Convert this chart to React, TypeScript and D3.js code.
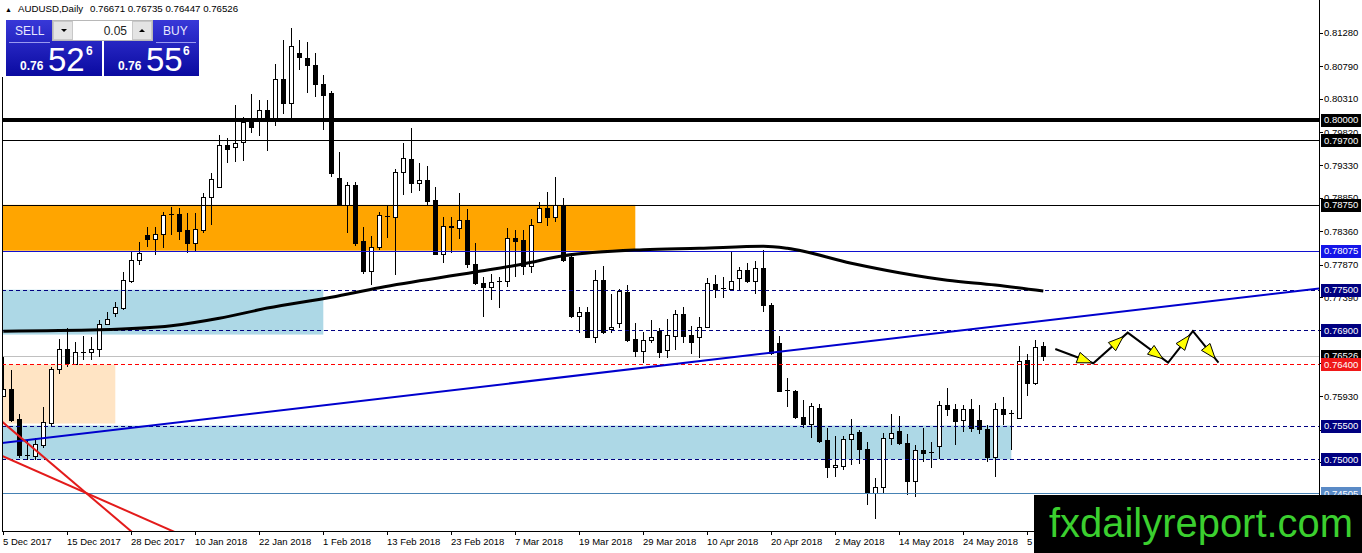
import React from 'react';
import * as d3 from 'd3';

// bar 0 = 5 Dec 2017, one label every 8 bars
const dateLabels = [
  '5 Dec 2017', '15 Dec 2017', '28 Dec 2017', '10 Jan 2018', '22 Jan 2018', '1 Feb 2018',
  '13 Feb 2018', '23 Feb 2018', '7 Mar 2018', '19 Mar 2018', '29 Mar 2018', '10 Apr 2018',
  '20 Apr 2018', '2 May 2018', '14 May 2018', '24 May 2018', '5 Jun 2018',
];

const opens = [
  0.7594, 0.7604, 0.7560, 0.7505, 0.7505, 0.7521, 0.7554, 0.7633, 0.7663, 0.7641,
  0.7657, 0.7658, 0.7663, 0.7700, 0.7716, 0.7723, 0.7763, 0.7794, 0.7831, 0.7825,
  0.7832, 0.7860, 0.7862, 0.7838, 0.7819, 0.7839, 0.7887, 0.7901, 0.7963, 0.7960,
  0.7968, 0.7997, 0.8001, 0.8015, 0.8001, 0.8060, 0.8025, 0.8099, 0.8091, 0.8081,
  0.8053, 0.8040, 0.7915, 0.7875, 0.7904, 0.7822, 0.7778, 0.7813, 0.7857, 0.7857,
  0.7923, 0.7943, 0.7907, 0.7912, 0.7882, 0.7803, 0.7844, 0.7841, 0.7853, 0.7788,
  0.7760, 0.7754, 0.7763, 0.7763, 0.7826, 0.7823, 0.7784, 0.7850, 0.7870, 0.7857,
  0.7875, 0.7798, 0.7711, 0.7717, 0.7680, 0.7764, 0.7692, 0.7701, 0.7747, 0.7677,
  0.7660, 0.7675, 0.7689, 0.7661, 0.7682, 0.7714, 0.7683, 0.7680, 0.7695, 0.7758,
  0.7751, 0.7751, 0.7767, 0.7779, 0.7763, 0.7782, 0.7728, 0.7672, 0.7602, 0.7601,
  0.7563, 0.7552, 0.7576, 0.7529, 0.7489, 0.7490, 0.7530, 0.7540, 0.7515, 0.7451,
  0.7460, 0.7532, 0.7542, 0.7524, 0.7468, 0.7514, 0.7510, 0.7520, 0.7580, 0.7574,
  0.7558, 0.7574, 0.7558, 0.7545, 0.7504, 0.7574, 0.7567, 0.7561, 0.7647, 0.7613,
  0.76671,
];
const highs = [
  0.7651, 0.7632, 0.7567, 0.7529, 0.7532, 0.7577, 0.7636, 0.7677, 0.7694, 0.7673,
  0.7682, 0.7680, 0.7705, 0.7717, 0.7732, 0.7776, 0.7806, 0.7820, 0.7842, 0.7842,
  0.7865, 0.7872, 0.7870, 0.7863, 0.7863, 0.7893, 0.7922, 0.7978, 0.7974, 0.8022,
  0.8004, 0.8038, 0.8029, 0.8029, 0.8082, 0.8118, 0.8135, 0.8118, 0.8115, 0.8099,
  0.8066, 0.8043, 0.7953, 0.7909, 0.7909, 0.7842, 0.7829, 0.7865, 0.7875, 0.7928,
  0.7966, 0.7988, 0.7937, 0.7932, 0.7901, 0.7857, 0.7857, 0.7893, 0.7869, 0.7819,
  0.7769, 0.7773, 0.7769, 0.7841, 0.7838, 0.7838, 0.7854, 0.7879, 0.7894, 0.7916,
  0.7885, 0.7804, 0.7725, 0.7725, 0.7779, 0.7785, 0.7744, 0.7751, 0.7757, 0.7701,
  0.7688, 0.7705, 0.7694, 0.7707, 0.7720, 0.7725, 0.7697, 0.7710, 0.7767, 0.7772,
  0.7769, 0.7806, 0.7784, 0.7789, 0.7792, 0.7809, 0.7730, 0.7682, 0.7620, 0.7603,
  0.7588, 0.7583, 0.7582, 0.7546, 0.7535, 0.7535, 0.7560, 0.7543, 0.7526, 0.7473,
  0.7539, 0.7567, 0.7564, 0.7538, 0.7521, 0.7546, 0.7526, 0.7586, 0.7605, 0.7582,
  0.7580, 0.7589, 0.7580, 0.7551, 0.7583, 0.7592, 0.7573, 0.7667, 0.7655, 0.7676,
  0.76735,
];
const lows = [
  0.7592, 0.7555, 0.7502, 0.7499, 0.7499, 0.7517, 0.7548, 0.7626, 0.7636, 0.7639,
  0.7647, 0.7647, 0.7651, 0.7698, 0.7710, 0.7720, 0.7760, 0.7786, 0.7813, 0.7801,
  0.7812, 0.7831, 0.7823, 0.7804, 0.7806, 0.7834, 0.7845, 0.7900, 0.7937, 0.7938,
  0.7940, 0.7981, 0.7976, 0.7954, 0.7991, 0.8009, 0.8003, 0.8074, 0.8040, 0.8034,
  0.7985, 0.7916, 0.7873, 0.7834, 0.7814, 0.7773, 0.7757, 0.7809, 0.7826, 0.7772,
  0.7890, 0.7893, 0.7895, 0.7873, 0.7801, 0.7789, 0.7804, 0.7825, 0.7782, 0.7757,
  0.7710, 0.7735, 0.7723, 0.7754, 0.7769, 0.7772, 0.7775, 0.7848, 0.7844, 0.7850,
  0.7791, 0.7708, 0.7686, 0.7679, 0.7672, 0.7685, 0.7686, 0.7694, 0.7673, 0.7651,
  0.7642, 0.7672, 0.7649, 0.7649, 0.7661, 0.7672, 0.7655, 0.7649, 0.7694, 0.7738,
  0.7738, 0.7750, 0.7750, 0.7760, 0.7744, 0.7717, 0.7654, 0.7599, 0.7577, 0.7560,
  0.7546, 0.7532, 0.7524, 0.7473, 0.7474, 0.7485, 0.7492, 0.7493, 0.7433, 0.7412,
  0.7451, 0.7521, 0.7521, 0.7448, 0.7445, 0.7496, 0.7487, 0.7501, 0.7564, 0.7521,
  0.7540, 0.7540, 0.7538, 0.7496, 0.7474, 0.7551, 0.7514, 0.7560, 0.7594, 0.7610,
  0.76447,
];
const closes = [
  0.7604, 0.7558, 0.7507, 0.7506, 0.7523, 0.7555, 0.7633, 0.7663, 0.7642, 0.7658,
  0.7658, 0.7663, 0.7700, 0.7707, 0.7725, 0.7764, 0.7794, 0.7804, 0.7825, 0.7832,
  0.7860, 0.7861, 0.7837, 0.7819, 0.7839, 0.7887, 0.7913, 0.7963, 0.7957, 0.7966,
  0.7997, 0.7990, 0.8015, 0.8001, 0.8060, 0.8025, 0.8109, 0.8093, 0.8080, 0.8053,
  0.8037, 0.7922, 0.7876, 0.7904, 0.7819, 0.7778, 0.7813, 0.7860, 0.7858, 0.7923,
  0.7944, 0.7907, 0.7912, 0.7881, 0.7803, 0.7844, 0.7842, 0.7853, 0.7788, 0.7760,
  0.7754, 0.7761, 0.7762, 0.7826, 0.7822, 0.7784, 0.7845, 0.7870, 0.7857, 0.7875,
  0.7794, 0.7711, 0.7717, 0.7680, 0.7764, 0.7688, 0.7695, 0.7748, 0.7676, 0.7660,
  0.7676, 0.7680, 0.7658, 0.7683, 0.7714, 0.7682, 0.7673, 0.7695, 0.7760, 0.7750,
  0.7752, 0.7763, 0.7779, 0.7763, 0.7782, 0.7728, 0.7657, 0.7602, 0.7601, 0.7563,
  0.7552, 0.7579, 0.7527, 0.7489, 0.7492, 0.7530, 0.7538, 0.7515, 0.7451, 0.7460,
  0.7532, 0.7539, 0.7524, 0.7468, 0.7514, 0.7510, 0.7511, 0.7580, 0.7574, 0.7557,
  0.7574, 0.7546, 0.7545, 0.7504, 0.7574, 0.7566, 0.7568, 0.7645, 0.7613, 0.7666,
  0.76526,
];

// moving average, read at a few bars
const maBars = [0, 12, 21, 27, 33, 41, 47, 59, 65, 70, 80, 87, 95, 98, 106, 112, 118, 124, 130];
const maValues = [
  0.7689, 0.7691, 0.7697, 0.7708, 0.7723, 0.7739, 0.7753, 0.7776, 0.7788, 0.7800,
  0.7809, 0.7811, 0.7814, 0.7811, 0.7789, 0.7775, 0.7764, 0.7757, 0.7748,
];

const priceTicks = [
  0.8128, 0.8079, 0.8031, 0.7982, 0.7933, 0.7885, 0.7836, 0.7787, 0.7739, 0.7690,
  0.7642, 0.7593, 0.7544, 0.7496, 0.7447,
];

const levelPrices = [0.8, 0.797, 0.7875, 0.78075, 0.775, 0.769, 0.764, 0.755, 0.75, 0.74505];
const levelKinds = ['thick', 'black', 'black', 'blue', 'navy', 'navy', 'red', 'navy', 'navy', 'steel'];

const zoneTops = [0.7875, 0.775, 0.764, 0.755];
const zoneBottoms = [0.78075, 0.7684, 0.7553, 0.75];
const zoneEndBars = [79, 40, 14, 126];
const zoneKinds = ['orange', 'blue', 'peach', 'blue'];

const trendFromBars = [0, 0, 0];
const trendToBars = [130, 16, 20];
const trendFromPrices = [0.75245, 0.75541, 0.75044];
const trendToPrices = [0.77043, 0.73941, 0.74006];
const trendKinds = ['blue', 'red', 'red'];

const zigBars = [131.5, 136.25, 140.55, 145.6, 148.7, 151.9];
const zigPrices = [0.76627, 0.76417, 0.76868, 0.76426, 0.76892, 0.76426];

const W = 1362;
const H = 553;
const plotLeft = 2;
const plotRight = 1319;
const plotBottom = 532;
const font = "'Liberation Sans', Arial, sans-serif";

const levelStyle: Record<string, { stroke: string; width: number; dash?: string; box: string }> = {
  thick: { stroke: '#000000', width: 4, box: '#000000' },
  black: { stroke: '#000000', width: 1, box: '#000000' },
  blue: { stroke: '#1010D0', width: 1, box: '#1515E8' },
  navy: { stroke: '#000080', width: 1, dash: '4,3', box: '#000080' },
  red: { stroke: '#FF0000', width: 1, dash: '4,3', box: '#F01818' },
  steel: { stroke: '#4682B4', width: 1, box: '#5A8AC6' },
};
const zoneFill: Record<string, string> = {
  orange: '#FFA500',
  blue: '#ADD8E6',
  peach: '#FFE4C4',
};
const trendStyle: Record<string, { stroke: string; width: number }> = {
  blue: { stroke: '#0000CD', width: 2 },
  red: { stroke: '#E31B1B', width: 2 },
};

const App: React.FC = () => {
  const x = d3.scaleLinear().domain([0, 130]).range([3.3, 1043.3]);
  const y = d3.scaleLinear().domain([0.74, 0.82]).range([527.4, -15.8]);

  const bars = d3.range(opens.length);
  const lastClose = closes[closes.length - 1];

  const maLine = d3
    .line<number>()
    .x((b) => x(b))
    .y((_, k) => y(maValues[k]))
    .curve(d3.curveMonotoneX);

  const zigLine = d3
    .line<number>()
    .x((b) => x(b))
    .y((_, k) => y(zigPrices[k]));

  // extend each trend line across the whole chart, clipped later
  const trendSegs = trendKinds.map((kind, k) => {
    const slope = (trendToPrices[k] - trendFromPrices[k]) / (trendToBars[k] - trendFromBars[k]);
    const at = (b: number) => trendFromPrices[k] + slope * (b - trendFromBars[k]);
    return { kind, x1: x(-2), y1: y(at(-2)), x2: x(170), y2: y(at(170)) };
  });

  const heads = zigBars.slice(1).map((b, k) => {
    const ax = x(zigBars[k]);
    const ay = y(zigPrices[k]);
    const bx = x(b);
    const by = y(zigPrices[k + 1]);
    const len = Math.hypot(bx - ax, by - ay);
    const ux = (bx - ax) / len;
    const uy = (by - ay) / len;
    const t = k === 0 ? 0.97 : 0.87;
    const tx = ax + (bx - ax) * t;
    const ty = ay + (by - ay) * t;
    const bx0 = tx - ux * 15;
    const by0 = ty - uy * 15;
    const pts = [
      [tx, ty],
      [bx0 - uy * 5.5, by0 + ux * 5.5],
      [bx0 + uy * 5.5, by0 - ux * 5.5],
    ];
    return pts.map((p) => p.join(',')).join(' ');
  });

  const axisLabels = levelPrices.map((p, k) => ({ p, box: levelStyle[levelKinds[k]].box }));
  // current price label sits under the red 0.764 label
  axisLabels.splice(6, 0, { p: lastClose, box: '#000000' });

  return (
    <svg
      width={W}
      height={H}
      style={{ position: 'absolute', left: 0, top: 0, background: '#ffffff', display: 'block' }}
    >
      <defs>
        <clipPath id="plot">
          <rect x={plotLeft} y={0} width={plotRight - plotLeft} height={plotBottom} />
        </clipPath>
        <linearGradient id="panelBlue" x1="0" y1="0" x2="0" y2="1">
          <stop offset="0" stopColor="#3838D8" />
          <stop offset="1" stopColor="#0A0AA0" />
        </linearGradient>
      </defs>
      <rect x={0} y={0} width={W} height={H} fill="#ffffff" />

      <g clipPath="url(#plot)">
        {zoneKinds.map((kind, k) => (
          <rect
            key={`z${k}`}
            x={plotLeft}
            y={y(zoneTops[k])}
            width={x(zoneEndBars[k]) - plotLeft}
            height={y(zoneBottoms[k]) - y(zoneTops[k])}
            fill={zoneFill[kind]}
          />
        ))}

        <line
          x1={plotLeft}
          x2={plotRight}
          y1={Math.round(y(lastClose)) + 0.5}
          y2={Math.round(y(lastClose)) + 0.5}
          stroke="#C0C0C0"
          strokeWidth={1}
        />

        {bars.map((i) => {
          const cx = Math.round(x(i)) + 0.5;
          const up = closes[i] >= opens[i];
          const top = y(Math.max(opens[i], closes[i]));
          const bot = y(Math.min(opens[i], closes[i]));
          const h = bot - top;
          return (
            <g key={`c${i}`} shapeRendering="crispEdges">
              <line x1={cx} x2={cx} y1={y(highs[i])} y2={y(lows[i])} stroke="#000" strokeWidth={1} />
              {h < 1 ? (
                <line x1={cx - 2.5} x2={cx + 2.5} y1={Math.round(top) + 0.5} y2={Math.round(top) + 0.5} stroke="#000" />
              ) : (
                <rect
                  x={cx - 2}
                  y={Math.round(top) + 0.5}
                  width={4}
                  height={Math.max(1, Math.round(h))}
                  fill={up ? '#ffffff' : '#000000'}
                  stroke="#000"
                  strokeWidth={1}
                />
              )}
            </g>
          );
        })}

        {levelPrices.map((p, k) => {
          const s = levelStyle[levelKinds[k]];
          const yy = s.width % 2 === 1 ? Math.round(y(p)) + 0.5 : Math.round(y(p));
          return (
            <line
              key={`l${k}`}
              x1={plotLeft}
              x2={plotRight}
              y1={yy}
              y2={yy}
              stroke={s.stroke}
              strokeWidth={s.width}
              strokeDasharray={s.dash}
            />
          );
        })}

        <path d={maLine(maBars) ?? ''} fill="none" stroke="#000" strokeWidth={3} />

        {trendSegs.map((t, k) => (
          <line
            key={`t${k}`}
            x1={t.x1}
            y1={t.y1}
            x2={t.x2}
            y2={t.y2}
            stroke={trendStyle[t.kind].stroke}
            strokeWidth={trendStyle[t.kind].width}
          />
        ))}

        <path d={zigLine(zigBars) ?? ''} fill="none" stroke="#000" strokeWidth={2} />
        {heads.map((pts, k) => (
          <polygon key={`h${k}`} points={pts} fill="#FFFF00" stroke="#000" strokeWidth={1} />
        ))}
      </g>

      {/* frame and axes */}
      <g shapeRendering="crispEdges">
        <line x1={2.5} x2={2.5} y1={77} y2={plotBottom} stroke="#000" />
        <line x1={plotRight + 0.5} x2={plotRight + 0.5} y1={0} y2={plotBottom} stroke="#000" />
        <line x1={2} x2={plotRight + 1} y1={plotBottom - 0.5} y2={plotBottom - 0.5} stroke="#000" />
        {dateLabels.map((_, k) => {
          const tx = Math.round(x(k * 8)) + 0.5;
          return <line key={`dt${k}`} x1={tx} x2={tx} y1={plotBottom} y2={plotBottom + 3} stroke="#000" />;
        })}
        {priceTicks.map((p, k) => (
          <line
            key={`pt${k}`}
            x1={plotRight}
            x2={plotRight + 4}
            y1={Math.round(y(p)) + 0.5}
            y2={Math.round(y(p)) + 0.5}
            stroke="#000"
          />
        ))}
      </g>

      {dateLabels.map((d, k) => (
        <text key={`dl${k}`} x={Math.round(x(k * 8))} y={544.5} fontSize={9.5} fontFamily={font} fill="#000">
          {d}
        </text>
      ))}

      {priceTicks.map((p, k) => (
        <text key={`pl${k}`} x={1324} y={y(p) + 3.4} fontSize={9.5} fontFamily={font} fill="#000">
          {p.toFixed(5)}
        </text>
      ))}

      {axisLabels.map((l, k) => (
        <g key={`al${k}`}>
          <rect x={1321} y={Math.round(y(l.p)) - 6} width={40} height={13} fill={l.box} />
          <text x={1324} y={y(l.p) + 3.4} fontSize={9.5} fontFamily={font} fill="#ffffff">
            {l.p.toFixed(5)}
          </text>
        </g>
      ))}

      {/* header */}
      <text x={5} y={12} fontSize={7} fontFamily={font} fill="#000">▲</text>
      <text x={18} y={12} fontSize={9.7} fontFamily={font} fill="#000">
        AUDUSD,Daily
      </text>
      <text x={90} y={12} fontSize={9.7} fontFamily={font} fill="#000">
        {`${opens[opens.length - 1].toFixed(5)} ${highs[highs.length - 1].toFixed(5)} ${lows[lows.length - 1].toFixed(5)} ${lastClose.toFixed(5)}`}
      </text>

      {/* one click trading panel */}
      <g fontFamily={font}>
        <rect x={6} y={20} width={96} height={56} fill="url(#panelBlue)" />
        <rect x={104} y={20} width={95} height={56} fill="url(#panelBlue)" />
        <line x1={9} x2={50} y1={42.5} y2={42.5} stroke="#9a9af0" />
        <line x1={156} x2={196} y1={42.5} y2={42.5} stroke="#9a9af0" />
        <rect x={52.5} y={20.5} width={100} height={20} fill="#ffffff" stroke="#b8b8b8" />
        <rect x={53.5} y={21.5} width={19} height={18} fill="#e4e4e4" stroke="#c8c8c8" />
        <rect x={132.5} y={21.5} width={19} height={18} fill="#e4e4e4" stroke="#c8c8c8" />
        <polygon points="61,29 67,29 64,32" fill="#000" />
        <polygon points="139,32 145,32 142,29" fill="#000" />
        <text x={127} y={35} textAnchor="end" fontSize={12} fill="#222">0.05</text>
        <text x={15} y={35} fontSize={12} fill="#e8e8ff">SELL</text>
        <text x={163} y={35} fontSize={12} fill="#e8e8ff">BUY</text>
        <text x={20} y={70} fontSize={12} fontWeight="bold" fill="#fff">0.76</text>
        <text x={48} y={71} fontSize={33} fill="#fff">52</text>
        <text x={86} y={55} fontSize={12} fontWeight="bold" fill="#fff">6</text>
        <text x={118} y={70} fontSize={12} fontWeight="bold" fill="#fff">0.76</text>
        <text x={146} y={71} fontSize={33} fill="#fff">55</text>
        <text x={183} y={55} fontSize={12} fontWeight="bold" fill="#fff">6</text>
      </g>

      {/* watermark */}
      <rect x={1034} y={495} width={W - 1034} height={H - 495} fill="#000" />
      <text
        x={1049}
        y={537}
        fontSize={40}
        fontFamily={font}
        fill="#3BCF2F"
        textLength={304}
        lengthAdjust="spacingAndGlyphs"
      >
        fxdailyreport.com
      </text>
    </svg>
  );
};

export default App;
